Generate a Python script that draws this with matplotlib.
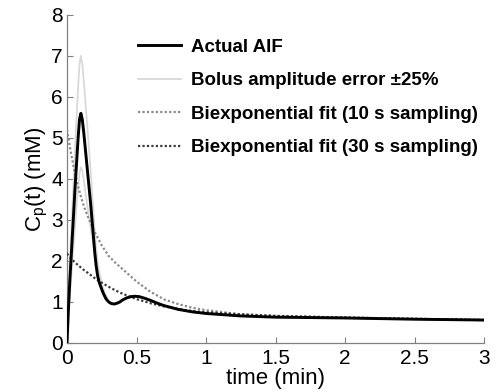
import numpy as np
import matplotlib
matplotlib.use("Agg")
import matplotlib.pyplot as plt

plt.rcParams['font.family'] = ['Liberation Sans', 'DejaVu Sans']
plt.rcParams['mathtext.fontset'] = 'custom'
plt.rcParams['mathtext.rm'] = 'Liberation Sans'
plt.rcParams['mathtext.it'] = 'Liberation Sans'

# time axis (min) for the AIF curves
t_aif = [0, .01, .02, .03, .04, .05, .06, .07, .08, .09, .10, .11, .12, .13, .14,
         .15, .16, .17, .18, .19, .20, .21, .22, .23, .24, .26, .28, .30, .32, .34,
         .36, .38, .40, .43, .46, .49, .52, .56, .60, .65, .70, .80, .90, 1.0, 1.25,
         1.5, 2.0, 2.5, 3.0]
actual_aif = [0, .8, 1.5, 2.1, 2.7, 3.3, 3.9, 4.45, 5.0, 5.45, 5.6, 5.45, 5.15, 4.8, 4.45,
              4.1, 3.75, 3.4, 3.0, 2.6, 2.2, 1.88, 1.65, 1.5, 1.4, 1.22, 1.08, 1.0, .96, .95,
              .97, 1.0, 1.05, 1.1, 1.13, 1.14, 1.13, 1.09, 1.04, .97, .91, .82, .76, .72, .66,
              .63, .61, .58, .56]
bolus_high = [0, 1.0, 1.88, 2.63, 3.38, 4.13, 4.88, 5.56, 6.25, 6.8, 7.0, 6.8, 6.43, 6.0, 5.55,
              5.1, 4.65, 4.2, 3.7, 3.2, 2.7, 2.3, 1.98, 1.77, 1.62, 1.35, 1.15, 1.03, .97, .95,
              .97, 1.0, 1.05, 1.1, 1.13, 1.14, 1.13, 1.09, 1.04, .97, .91, .82, .76, .72, .66,
              .63, .61, .58, .56]
bolus_low = [0, .6, 1.13, 1.58, 2.03, 2.5, 2.95, 3.4, 3.8, 4.15, 4.28, 4.2, 4.0, 3.75, 3.5,
             3.25, 3.0, 2.8, 2.6, 2.38, 2.1, 1.82, 1.6, 1.47, 1.38, 1.2, 1.07, .99, .95, .95,
             .97, 1.0, 1.05, 1.1, 1.13, 1.14, 1.13, 1.09, 1.04, .97, .91, .82, .76, .72, .66,
             .63, .61, .58, .56]

# biexponential fits
t_fit = [0, .025, .05, .075, .1, .125, .15, .2, .25, .3, .35, .4, .5, .6, .7, .8,
         .9, 1.0, 1.25, 1.5, 2.0, 2.5, 3.0]
fit_10s = [5.2, 4.7, 4.25, 3.88, 3.57, 3.3, 3.08, 2.7, 2.38, 2.12, 1.95, 1.8, 1.5, 1.25,
           1.06, .95, .86, .8, .7, .66, .62, .59, .56]
fit_30s = [2.18, 2.08, 1.99, 1.91, 1.84, 1.77, 1.71, 1.58, 1.47, 1.37, 1.28, 1.2, 1.07, .97,
           .89, .83, .78, .75, .70, .66, .62, .59, .56]

xticks = [0, 0.5, 1, 1.5, 2, 2.5, 3]
xticklabels = ['0', '0.5', '1', '1.5', '2', '2.5', '3']
yticks = list(range(0, 9))

fig = plt.figure(figsize=(5.0, 3.92), dpi=100)
ax = fig.add_axes([0.134, 0.125, 0.834, 0.837])

ax.plot(t_aif, bolus_high, color='#d9d9d9', lw=1.3, zorder=2)
ax.plot(t_aif, bolus_low, color='#d9d9d9', lw=1.3, zorder=2)
ax.plot(t_fit, fit_10s, color='#8a8a8a', lw=1.6, ls=(0, (1, 1)), zorder=3)
ax.plot(t_fit, fit_30s, color='#3c3c3c', lw=1.6, ls=(0, (1, 1)), zorder=3)
ax.plot(t_aif, actual_aif, color='black', lw=2.1, zorder=4)

ax.set_xlim(0, 3)
ax.set_ylim(0, 8)
ax.set_xticks(xticks)
ax.set_xticklabels(xticklabels)
ax.set_yticks(yticks)
for s in ['top', 'right']:
    ax.spines[s].set_visible(False)
for s in ['left', 'bottom']:
    ax.spines[s].set_color('#808080')
    ax.spines[s].set_linewidth(0.9)
ax.tick_params(direction='in', length=4, color='#808080', labelsize=15)
ax.tick_params(axis='x', pad=4)
ax.tick_params(axis='y', pad=3)

ax.set_xlabel('time (min)', fontsize=16, labelpad=0)
ax.set_ylabel(r'C$_{\rm p}$(t) (mM)', fontsize=16, labelpad=1)

# legend drawn with proxy lines
handles = [
    plt.Line2D([], [], color='black', lw=2.1),
    plt.Line2D([], [], color='#d9d9d9', lw=1.3),
    plt.Line2D([], [], color='#8a8a8a', lw=1.6, ls=(0, (1, 1))),
    plt.Line2D([], [], color='#3c3c3c', lw=1.6, ls=(0, (1, 1))),
]
labels = ['Actual AIF', 'Bolus amplitude error \u00b125%',
          'Biexponential fit (10 s sampling)', 'Biexponential fit (30 s sampling)']
leg = fig.legend(handles, labels, loc='upper left', bbox_to_anchor=(0.276, 0.902),
                 frameon=False, borderpad=0, borderaxespad=0, handlelength=2.3,
                 handletextpad=0.53, labelspacing=0.88, prop={'weight': 'bold', 'size': 13.5})

fig.savefig('out.png', dpi=100)
